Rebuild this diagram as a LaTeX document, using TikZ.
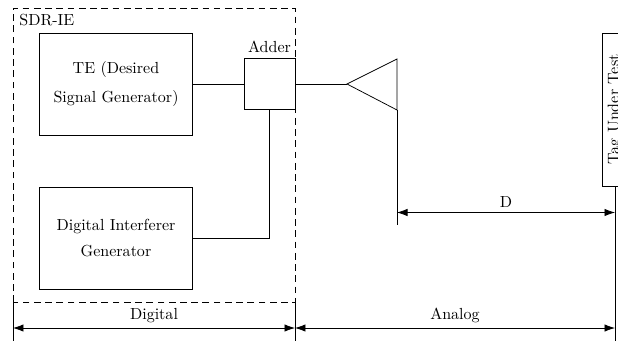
\documentclass[tikz,border=0pt]{standalone}
\usetikzlibrary{arrows.meta}

\begin{document}
\begin{tikzpicture}[x=0.667pt, y=-0.667pt, line width=0.5pt, >={Latex[length=7pt,width=5pt]},
    every node/.style={font=\fontsize{10.7pt}{13pt}\selectfont}]

    % Define the styles for the nodes
    \tikzstyle{block} = [rectangle, draw, text centered, align=center, minimum width=102pt, minimum height=68pt]
    \tikzstyle{region} = [draw, dash pattern=on 4.5pt off 3pt]

    \useasboundingbox (0,0) rectangle (618,341);
    \clip (0,0) rectangle (618,341);

    % Nodes
    \node (te) [block] at (116,84) {TE (Desired\\[5.7pt] Signal Generator)};
    \node (interf) [block] at (116,238) {Digital Interferer\\[4.3pt] Generator};
    \node (adder) [draw, minimum size=34pt, label={[name=adderlbl]above:Adder}] at (269.5,84) {};
    \node (tag) [draw, minimum width=17.3pt, minimum height=102pt] at (615,109.5) {\rotatebox{90}{Tag Under Test}};
    \node (sdrie) [anchor=west, inner sep=0pt] at (19,20) {SDR-IE};

    % Antenna
    \coordinate (anttip) at (347,84);
    \coordinate (anttop) at (397,59);
    \coordinate (antbot) at (397,110);
    \draw (anttip) -- (anttop) -- (antbot) -- cycle;

    % Dashed region
    \draw[region] (13,302) rectangle (295,8);

    % Connections
    \draw (te.east) -- (adder.west);
    \draw (adder.east) -- (anttip);
    \draw (interf.east) -| (adder.south);

    % Distances
    \coordinate (dstart) at (397,212.5);
    \coordinate (dend) at (615,212.5);
    \draw (antbot) -- (397,225);
    \draw (tag.south) -- (615,341);
    \draw[<->] (dstart) -- (dend) node[midway, above] {D};

    \coordinate (dig) at (13,328);
    \coordinate (sep) at (295,328);
    \coordinate (ana) at (615,328);
    \draw (13,302) -- (13,341);
    \draw (295,302) -- (295,341);
    \draw[<->] (dig) -- (sep) node[midway, above] {Digital};
    \draw[<->] (sep) -- (ana) node[midway, above] {Analog};

\end{tikzpicture}
\end{document}
